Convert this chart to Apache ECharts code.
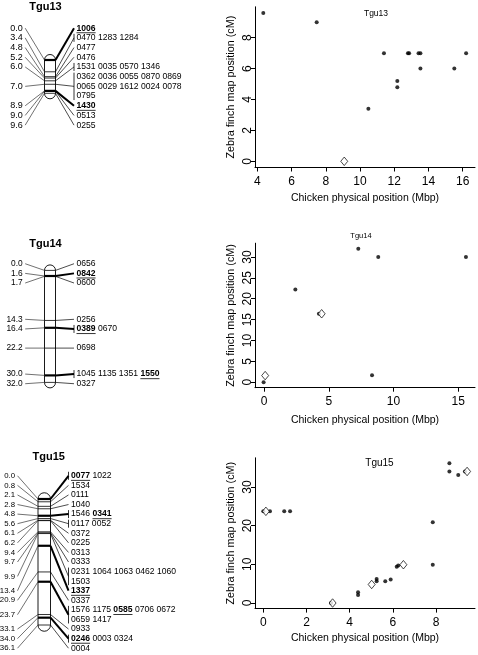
<!DOCTYPE html>
<html><head><meta charset="utf-8">
<script src="https://cdn.jsdelivr.net/npm/echarts@6/dist/echarts.min.js"></script>
<style>html,body{margin:0;padding:0;background:#fff}#c{width:478px;height:655px}</style>
</head><body><div id="c"></div>
<script>
// ================= DATA =================
// Genetic maps (zebra finch, cM) : positions, locus rows at each position, anchored (bold) loci
const pos13 = [0.0, 3.4, 4.8, 5.2, 6.0, 7.0, 8.9, 9.0, 9.6];
const loci13 = [["1006"], ["0470 1283 1284"], ["0477"], ["0476"], ["1531 0035 0570 1346"],
  ["0362 0036 0055 0870 0869", "0065 0029 1612 0024 0078", "0795"], ["1430"], ["0513"], ["0255"]];
const bold13 = ["1006", "1430"];

const pos14 = [0.0, 1.6, 1.7, 14.3, 16.4, 22.2, 30.0, 32.0];
const loci14 = [["0656"], ["0842"], ["0600"], ["0256"], ["0389 0670"], ["0698"], ["1045 1135 1351 1550"], ["0327"]];
const bold14 = ["0842", "0389", "1550"];

const pos15 = [0.0, 0.8, 2.1, 2.8, 4.8, 5.6, 6.1, 6.2, 9.4, 9.7, 9.9, 13.4, 20.9, 23.7, 33.1, 34.0, 36.1];
const loci15 = [["0077 1022"], ["1534"], ["0111"], ["1040"], ["1546 0341"], ["0117 0052"], ["0372"], ["0225"],
  ["0313"], ["0333"], ["0231 1064 1063 0462 1060", "1503"], ["1337"], ["0337"],
  ["1576 1175 0585 0706 0672", "0659 1417"], ["0933"], ["0246 0003 0324"], ["0004"]];
const bold15 = ["0077", "0341", "1337", "0585", "0246"];

// Scatter plots: [chicken Mbp, zebra finch cM]
const dots13 = [[4.35,9.6],[7.47,9.0],[10.49,3.4],[11.4,7.0],[12.18,5.2],[12.18,4.8],[12.8,7.0],[12.87,7.0],
  [13.42,7.0],[13.53,7.0],[13.53,6.0],[15.51,6.0],[16.2,7.0]];
const open13 = [[9.08,0.0]];
const dots14 = [[-0.03,0.0],[2.42,22.2],[4.24,16.4],[7.28,32.0],[8.82,30.0],[8.34,1.7],[15.59,30.0]];
const open14 = [[0.09,1.6],[4.45,16.4]];
const dots15 = [[0.0,23.7],[0.31,23.7],[0.97,23.7],[1.24,23.7],[3.14,0.0],[4.39,2.1],[4.39,2.8],[5.25,5.6],
  [5.25,6.2],[5.65,5.6],[5.9,6.1],[6.18,9.4],[6.25,9.7],[7.85,9.9],[7.85,20.9],[8.62,36.1],[8.62,34.0],
  [9.03,33.1],[9.34,34.0]];
const open15 = [[0.12,23.7],[3.21,0.0],[5.02,4.8],[6.49,9.9],[9.44,34.0]];

const xTicks13 = [4, 6, 8, 10, 12, 14, 16];
const yTicks13 = [0, 2, 4, 6, 8];
const xTicks14 = [0, 5, 10, 15];
const yTicks14 = [0, 5, 10, 15, 20, 25, 30];
const xTicks15 = [0, 2, 4, 6, 8];
const yTicks15 = [0, 10, 20, 30];

const chromNames = ["Tgu13", "Tgu14", "Tgu15"];
const xTitle = "Chicken physical position (Mbp)";
const yTitle = "Zebra finch map position (cM)";

// ================= STYLE / LAYOUT =================
const FAM = '"Liberation Sans", Arial, Helvetica, sans-serif';
const MAP_FS = 8.6;
const REG = MAP_FS + 'px ' + FAM;
const BOLD = 'bold ' + MAP_FS + 'px ' + FAM;
const mctx = document.createElement('canvas').getContext('2d');
function tw(s, font) { mctx.font = font; return mctx.measureText(s).width; }

function spread(ds, nrows, h) {
  const blocks = [];
  const first = b => (b.lo + b.hi) / 2 - (b.rows - 1) * h / 2;
  ds.forEach((d, i) => {
    blocks.push({ idx: [i], lo: d, hi: d, rows: nrows[i] });
    while (blocks.length > 1) {
      const b = blocks[blocks.length - 1], a = blocks[blocks.length - 2];
      const aLast = first(a) + (a.rows - 1) * h;
      if (first(b) - aLast < h - 1e-6) {
        a.idx = a.idx.concat(b.idx); a.lo = Math.min(a.lo, b.lo); a.hi = Math.max(a.hi, b.hi);
        a.rows += b.rows; blocks.pop();
      } else break;
    }
  });
  const out = [];
  blocks.forEach(b => {
    let y = first(b);
    b.idx.forEach(i => { const r = []; for (let k = 0; k < nrows[i]; k++) { r.push(y); y += h; } out[i] = r; });
  });
  return out;
}

function mapSeries(cfg, idx) {
  const outline = {
    type: 'custom', coordinateSystem: 'cartesian2d', xAxisIndex: idx, yAxisIndex: idx, z: 1, clip: false, silent: true,
    data: [[0, cfg.pos[0], cfg.pos[cfg.pos.length - 1]]],
    renderItem(params, api) {
      const y0 = api.coord([0, cfg.pos[0]])[1];
      const y1 = api.coord([0, cfg.pos[cfg.pos.length - 1]])[1];
      const w = cfg.chromR - cfg.chromL, r = w / 2;
      return { type: 'rect', shape: { x: cfg.chromL, y: y0 - r, width: w, height: y1 - y0 + 2 * r, r: r },
        style: { fill: '#fff', stroke: '#000', lineWidth: 0.9 } };
    }
  };
  const leftFont = cfg.leftFs + 'px ' + FAM;
  const loci = {
    type: 'custom', coordinateSystem: 'cartesian2d', xAxisIndex: idx, yAxisIndex: idx, z: 2, clip: false, silent: true,
    data: cfg.pos.map(p => [0, p]),
    renderItem(params, api) {
      const i = params.dataIndex;
      const ys = cfg.pos.map(p => api.coord([0, p])[1]);
      const rowsAll = spread(ys, cfg.loci.map(g => g.length), cfg.rowH);
      const rows = rowsAll[i];
      const py = ys[i];
      const cy = (rows[0] + rows[rows.length - 1]) / 2;
      const names = cfg.loci[i].join(' ').split(' ');
      const isBold = names.some(n => cfg.bold.includes(n));
      const ch = [];
      ch.push({ type: 'line', shape: { x1: cfg.chromL, y1: py, x2: cfg.chromR, y2: py },
        style: { stroke: '#000', lineWidth: isBold ? 2.2 : 0.8 } });
      ch.push({ type: 'line', shape: { x1: cfg.leftX + 2.5, y1: cy, x2: cfg.chromL, y2: py },
        style: { stroke: '#333', lineWidth: 0.7 } });
      ch.push({ type: 'text', style: { text: cfg.pos[i].toFixed(1), x: cfg.leftX, y: cy, align: 'right',
        verticalAlign: 'middle', font: leftFont, fill: '#000' } });
      ch.push({ type: 'line', shape: { x1: cfg.chromR, y1: py, x2: cfg.bracketX, y2: cy },
        style: { stroke: '#000', lineWidth: isBold ? 2 : 0.7 } });
      if (names.length > 1) {
        ch.push({ type: 'line', shape: { x1: cfg.bracketX, y1: rows[0] - 4, x2: cfg.bracketX, y2: rows[rows.length - 1] + 4 },
          style: { stroke: '#000', lineWidth: 0.8 } });
      }
      rows.forEach((ry, k) => {
        let x = cfg.bracketX + 2.5;
        cfg.loci[i][k].split(' ').forEach(nm => {
          const b = cfg.bold.includes(nm);
          const f = b ? BOLD : REG;
          ch.push({ type: 'text', style: { text: nm, x: x, y: ry, align: 'left', verticalAlign: 'middle', font: f, fill: '#000' } });
          const w = tw(nm, f);
          if (b) ch.push({ type: 'line', shape: { x1: x, y1: ry + 4.6, x2: x + w, y2: ry + 4.6 }, style: { stroke: '#000', lineWidth: 0.8 } });
          x += w + tw(' ', REG);
        });
      });
      return { type: 'group', children: ch };
    }
  };
  return [outline, loci];
}

const maps = [
  { pos: pos13, loci: loci13, bold: bold13, chromL: 44.5, chromR: 55.5, leftX: 22.7, leftFs: 9, bracketX: 74, rowH: 9.7, top: 60, height: 33.3 },
  { pos: pos14, loci: loci14, bold: bold14, chromL: 44.5, chromR: 55.5, leftX: 22.7, leftFs: 8.4, bracketX: 74, rowH: 9.65, top: 270.4, height: 112 },
  { pos: pos15, loci: loci15, bold: bold15, chromL: 38, chromR: 50.5, leftX: 15, leftFs: 7.8, bracketX: 68.5, rowH: 9.58, top: 499, height: 126 }
];

const scat = [
  { dots: dots13, open: open13, xt: xTicks13, yt: yTicks13, xmin: 3.866, xmax: 16.719, ymin: -0.4, ymax: 10.0, top: 6.8, height: 160.7, xGap: 25 },
  { dots: dots14, open: open14, xt: xTicks14, yt: yTicks14, xmin: -0.695, xmax: 16.29, ymin: -1.3, ymax: 33.3, top: 243.2, height: 144.5, xGap: 26.5 },
  { dots: dots15, open: open15, xt: xTicks15, yt: yTicks15, xmin: -0.384, xmax: 9.806, ymin: -1.44, ymax: 37.54, top: 457.8, height: 150.8, xGap: 24 }
];

const grid = [], xAxis = [], yAxis = [], series = [];
maps.forEach((m, i) => {
  grid.push({ left: 0, top: m.top, width: 100, height: m.height, outerBoundsMode: 'none', containLabel: false });
  xAxis.push({ gridIndex: i, type: 'value', min: 0, max: 1, show: false });
  yAxis.push({ gridIndex: i, type: 'value', min: 0, max: m.pos[m.pos.length - 1], inverse: true, show: false });
  series.push(...mapSeries(m, i));
});
const axTxt = { color: '#000', fontFamily: FAM };
scat.forEach((s, j) => {
  const gi = j + 3;
  grid.push({ left: 255, top: s.top, width: 220, height: s.height, outerBoundsMode: 'none', containLabel: false });
  xAxis.push({ gridIndex: gi, type: 'value', min: s.xmin, max: s.xmax,
    axisLine: { show: true, onZero: false, lineStyle: { color: '#000', width: 1 } },
    axisTick: { show: true, length: 4, customValues: s.xt, lineStyle: { color: '#000', width: 1 } },
    axisLabel: { customValues: s.xt, fontSize: 12, margin: 8, ...axTxt },
    splitLine: { show: false },
    name: xTitle, nameLocation: 'middle', nameGap: s.xGap, nameTextStyle: { fontSize: 10.5, ...axTxt } });
  yAxis.push({ gridIndex: gi, type: 'value', min: s.ymin, max: s.ymax,
    axisLine: { show: true, onZero: false, lineStyle: { color: '#000', width: 1 } },
    axisTick: { show: true, length: 4, customValues: s.yt, lineStyle: { color: '#000', width: 1 } },
    axisLabel: { customValues: s.yt, fontSize: 12, margin: 1.5, rotate: 90, ...axTxt },
    splitLine: { show: false },
    name: yTitle, nameLocation: 'middle', nameGap: 18, nameTextStyle: { fontSize: 10.8, ...axTxt } });
  series.push({ type: 'scatter', xAxisIndex: gi, yAxisIndex: gi, data: s.dots, symbol: 'circle', symbolSize: 4,
    itemStyle: { color: '#000' }, silent: true, z: 3 });
  series.push({ type: 'scatter', xAxisIndex: gi, yAxisIndex: gi, data: s.open, symbol: 'diamond', symbolSize: [7, 8.5],
    itemStyle: { color: '#fff', borderColor: '#000', borderWidth: 0.9 }, silent: true, z: 4 });
});

const titleEls = [
  { x: 45.5, y: 7, t: chromNames[0], f: 'bold 11px ' + FAM },
  { x: 45.5, y: 244, t: chromNames[1], f: 'bold 11px ' + FAM },
  { x: 48.7, y: 457.3, t: chromNames[2], f: 'bold 11px ' + FAM },
  { x: 376, y: 14, t: chromNames[0], f: '8.5px ' + FAM },
  { x: 361, y: 236, t: chromNames[1], f: '7.5px ' + FAM },
  { x: 379.5, y: 463.5, t: chromNames[2], f: '10px ' + FAM }
].map(o => ({ type: 'text', x: o.x, y: o.y, silent: true,
  style: { text: o.t, font: o.f, fill: '#000', align: 'center', verticalAlign: 'middle' } }));

const chart = echarts.init(document.getElementById('c'), null, { renderer: 'canvas' });
chart.setOption({
  animation: false,
  backgroundColor: '#fff',
  grid, xAxis, yAxis, series,
  graphic: { elements: titleEls }
});
</script></body></html>
